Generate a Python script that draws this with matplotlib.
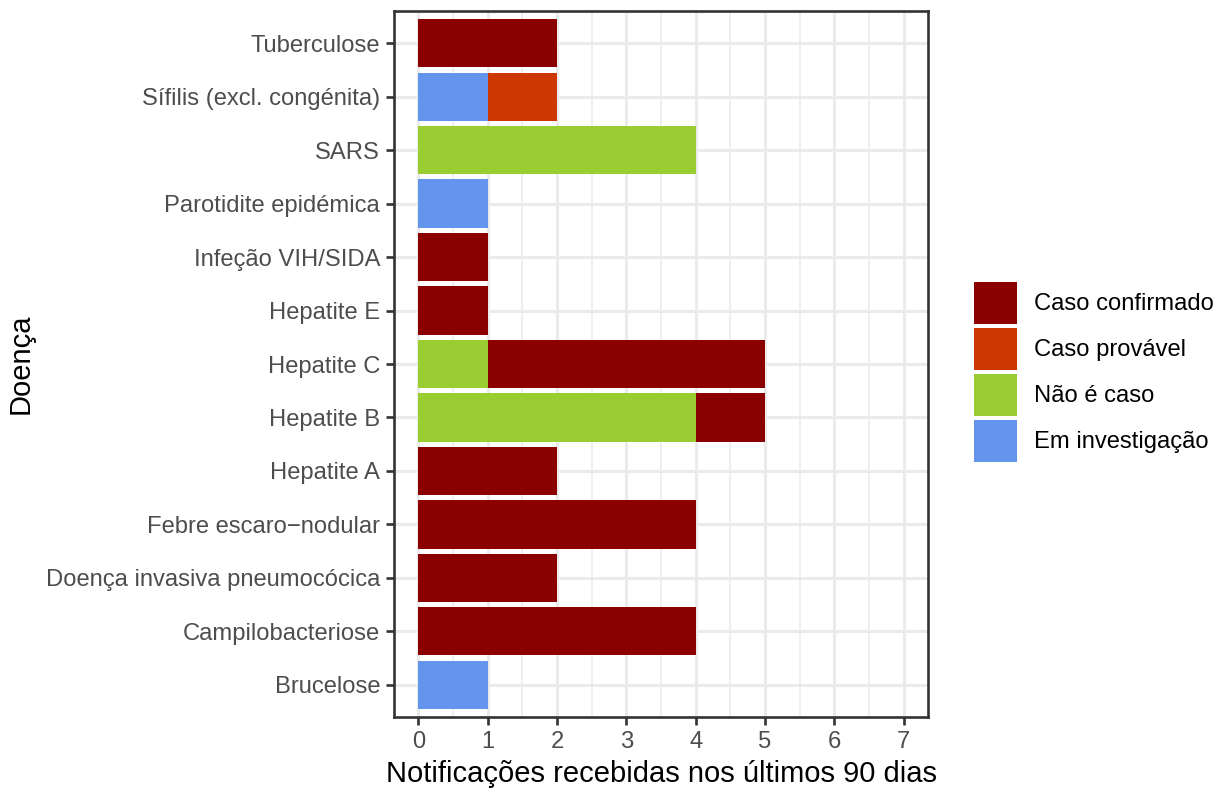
import numpy as np
import matplotlib
matplotlib.use("Agg")
import matplotlib.pyplot as plt
from matplotlib.patches import Patch

plt.rcParams['font.family'] = ['Liberation Sans', 'DejaVu Sans']

# doenças, de baixo para cima
doencas = ["Brucelose", "Campilobacteriose", "Doença invasiva pneumocócica",
           "Febre escaro\u2212nodular", "Hepatite A", "Hepatite B", "Hepatite C",
           "Hepatite E", "Infeção VIH/SIDA", "Parotidite epidémica", "SARS",
           "Sífilis (excl. congénita)", "Tuberculose"]

# contagens por classificação (mesma ordem que doencas)
em_investigacao = [1, 0, 0, 0, 0, 0, 0, 0, 0, 1, 0, 1, 0]
nao_e_caso      = [0, 0, 0, 0, 0, 4, 1, 0, 0, 0, 4, 0, 0]
caso_provavel   = [0, 0, 0, 0, 0, 0, 0, 0, 0, 0, 0, 1, 0]
caso_confirmado = [0, 4, 2, 4, 2, 1, 4, 1, 1, 0, 0, 0, 2]

# ordem de empilhamento (da esquerda para a direita)
series = [("Em investigação", em_investigacao, "#6495ED"),
          ("Não é caso", nao_e_caso, "#9ACD32"),
          ("Caso provável", caso_provavel, "#CD3700"),
          ("Caso confirmado", caso_confirmado, "#8B0000")]

fig = plt.figure(figsize=(12.24, 7.89), dpi=100)
W, H = 1224, 789
ax = fig.add_axes([394 / W, 1 - 717 / H, (928 - 394) / W, (717 - 11) / H])

y = np.arange(1, len(doencas) + 1)
left = np.zeros(len(doencas))
for nome, vals, cor in series:
    vals = np.array(vals, dtype=float)
    ax.barh(y, vals, left=left, height=0.9, color=cor, linewidth=0, zorder=3)
    left += vals

ax.set_xlim(-0.35, 7.35)
ax.set_ylim(0.4, len(doencas) + 0.6)

# grelha estilo theme_bw
grid_col = "#EBEBEB"
ax.set_xticks(range(0, 8))
ax.set_xticks(np.arange(0.5, 7.5, 1.0), minor=True)
ax.set_yticks(y)
ax.set_yticklabels(doencas)
ax.grid(which="major", color=grid_col, linewidth=2.2, zorder=0)
ax.xaxis.grid(which="minor", color=grid_col, linewidth=1.1, zorder=0)
ax.set_axisbelow(True)
for s in ax.spines.values():
    s.set_color("#333333")
    s.set_linewidth(1.9)

ax.tick_params(axis="both", which="major", color="#333333", width=1.9, length=6,
               labelsize=17.1, labelcolor="#4D4D4D", pad=4)
ax.tick_params(axis="both", which="minor", length=0)

ax.set_xlabel("Notificações recebidas nos últimos 90 dias", fontsize=21,
              color="black", labelpad=5)
ax.set_ylabel("Doença", fontsize=21, color="black", labelpad=8)

# legenda
handles = [Patch(facecolor=c, edgecolor="none") for _, _, c in series][::-1]
labels = [n for n, _, _ in series][::-1]
fs = 17.1
fs_px = fs * 100 / 72
hh = (42 / fs_px - 0.245) / 0.65
fig.legend(handles, labels, loc="upper left",
           bbox_to_anchor=(974 / W, 1 - 282 / H), frameon=False,
           fontsize=fs, handlelength=43 / fs_px, handleheight=hh,
           labelspacing=4 / fs_px, handletextpad=17 / fs_px, borderpad=0,
           borderaxespad=0)

fig.savefig("out.png", dpi=100, facecolor="white")
